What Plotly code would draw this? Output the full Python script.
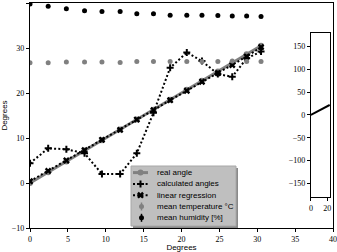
import plotly.graph_objects as go

# ---- data ----
x_vals = [0.0, 2.4, 4.8, 7.2, 9.5, 11.9, 14.1, 16.3, 18.5, 20.7, 22.7, 24.8, 26.7, 28.6, 30.5]
real_angle = [0.0, 2.4, 4.8, 7.2, 9.5, 11.9, 14.1, 16.3, 18.5, 20.7, 22.7, 24.8, 26.7, 28.6, 30.5]
calculated = [4.4, 7.7, 7.5, 6.6, 2.0, 2.0, 6.6, 15.6, 25.6, 29.0, 27.1, 24.2, 23.6, 27.7, 29.2]
regression = [0.4, 2.7, 5.0, 7.3, 9.6, 11.8, 14.1, 16.2, 18.4, 20.5, 22.5, 24.4, 26.2, 28.1, 30.2]
temperature = [26.7, 26.7, 26.9, 26.9, 26.9, 26.8, 27.0, 27.0, 27.0, 27.0, 27.0, 27.0, 27.1, 27.0, 27.0]
humidity = [39.8, 39.3, 38.7, 38.3, 38.1, 38.1, 37.6, 37.6, 37.3, 37.3, 37.3, 37.2, 37.1, 37.1, 37.0]
inset_x = [0, 23]
inset_y = [0, 22]

x_ticks = [0, 5, 10, 15, 20, 25, 30, 35, 40]
y_ticks = [-10, 0, 10, 20, 30, 40]
inset_y_ticks = [-150, -100, -50, 0, 50, 100, 150]
inset_x_ticks = [0, 20]

legend_labels = ["real angle", "calculated angles", "linear regression",
                 "mean temperature °C", "mean humidity [%]"]

serif = "Liberation Serif"
sans = "Liberation Sans"
GRAY = "#808080"
DOT = "2px,2.2px"


def minus(v):
    return ("\u2212" + str(-v)) if v < 0 else str(v)


PLUS = dict(color="black", symbol="cross-thin", size=5, line=dict(color="black", width=2))
XMK = dict(color="black", symbol="x", size=6)

fig = go.Figure()
fig.add_trace(go.Scatter(x=x_vals, y=real_angle, name=legend_labels[0], mode="lines+markers",
                         line=dict(color=GRAY, width=3), marker=dict(color=GRAY, size=6)))
fig.add_trace(go.Scatter(x=x_vals, y=calculated, name=legend_labels[1], mode="lines+markers",
                         line=dict(color="black", width=2, dash=DOT), marker=PLUS))
fig.add_trace(go.Scatter(x=x_vals, y=regression, name=legend_labels[2], mode="lines+markers",
                         line=dict(color="black", width=2, dash=DOT), marker=XMK))
fig.add_trace(go.Scatter(x=x_vals, y=temperature, name=legend_labels[3], mode="markers",
                         marker=dict(color=GRAY, size=5)))
fig.add_trace(go.Scatter(x=x_vals, y=humidity, name=legend_labels[4], mode="markers",
                         marker=dict(color="black", size=5)))
fig.add_trace(go.Scatter(x=inset_x, y=inset_y, mode="lines",
                         line=dict(color="black", width=2), xaxis="x2", yaxis="y2"))

# ---- hand-drawn compact legend (in a pixel-space overlay axis) ----
LX = "x3"
LY = "y3"
box_l, box_r, box_t, box_b = 131, 236, 166, 226
row_y = [172.6, 183.9, 195.2, 206.5, 217.8]
s0, s1, sc = 133, 148, 140.5
text_x = 155
sh = 2
fig.add_trace(go.Scatter(x=[box_l + sh, box_r + sh, box_r + sh, box_l + sh, box_l + sh],
                         y=[box_t + sh, box_t + sh, box_b + sh, box_b + sh, box_t + sh],
                         fill="toself", fillcolor="#8a8a8a", mode="lines", line=dict(width=0),
                         xaxis=LX, yaxis=LY, hoverinfo="skip"))
fig.add_trace(go.Scatter(x=[box_l, box_r, box_r, box_l, box_l],
                         y=[box_t, box_t, box_b, box_b, box_t],
                         fill="toself", fillcolor="#bfbfbf", mode="lines",
                         line=dict(width=1, color="#a8a8a8"),
                         xaxis=LX, yaxis=LY, hoverinfo="skip"))
fig.add_trace(go.Scatter(x=[s0, s1], y=[row_y[0]] * 2, mode="lines", line=dict(color=GRAY, width=3),
                         xaxis=LX, yaxis=LY))
fig.add_trace(go.Scatter(x=[sc], y=[row_y[0]], mode="markers", marker=dict(color=GRAY, size=6),
                         xaxis=LX, yaxis=LY))
for r, mk in [(1, PLUS), (2, XMK)]:
    fig.add_trace(go.Scatter(x=[s0, s1], y=[row_y[r]] * 2, mode="lines",
                             line=dict(color="black", width=2, dash=DOT), xaxis=LX, yaxis=LY))
    fig.add_trace(go.Scatter(x=[sc], y=[row_y[r]], mode="markers", marker=mk, xaxis=LX, yaxis=LY))
for r, col in [(3, GRAY), (4, "black")]:
    fig.add_trace(go.Scatter(x=[sc + 1], y=[row_y[r]], mode="markers",
                             marker=dict(color=col, size=5),
                             error_y=dict(type="constant", value=4, color=col, thickness=1.5, width=0),
                             xaxis=LX, yaxis=LY))

annotations = []
for lbl, ry in zip(legend_labels, row_y):
    annotations.append(dict(x=text_x, y=ry, xref=LX, yref=LY, text=lbl, showarrow=False,
                            xanchor="left", yanchor="middle",
                            font=dict(family=sans, size=8, color="black")))

axis_common = dict(showgrid=False, zeroline=False, showline=True, linecolor="black",
                   linewidth=1.2, ticks="outside", ticklen=3, tickwidth=1, tickcolor="black",
                   automargin=False,
                   tickfont=dict(family=serif, size=8, color="black"))

fig.update_layout(
    width=337, height=252,
    margin=dict(l=30, r=4, t=3, b=24),
    paper_bgcolor="white", plot_bgcolor="white",
    showlegend=False,
    hovermode=False,
    annotations=annotations,
    xaxis=dict(range=[0, 40], tickvals=x_ticks, mirror=True, domain=[0, 1],
               title=dict(text="Degrees", font=dict(family=sans, size=8, color="black"), standoff=2),
               **axis_common),
    yaxis=dict(range=[-10, 40], tickvals=y_ticks, mirror=True,
               ticktext=[minus(v) for v in y_ticks],
               title=dict(text="Degrees", font=dict(family=sans, size=8, color="black"), standoff=2),
               **axis_common),
    xaxis2=dict(domain=[0.927, 0.990], anchor="y2", range=[0, 23.3], tickvals=inset_x_ticks,
                mirror=True, **axis_common),
    yaxis2=dict(domain=[0.138, 0.867], anchor="x2", range=[-180, 180], tickvals=inset_y_ticks,
                ticktext=[minus(v) for v in inset_y_ticks],
                mirror=True, **axis_common),
    xaxis3=dict(overlaying="x", range=[30, 333], visible=False, anchor="y3"),
    yaxis3=dict(overlaying="y", range=[228, 3], visible=False, anchor="x3"),
)
fig.add_shape(type="rect", xref="x2 domain", yref="y2 domain", x0=0, x1=1, y0=0, y1=1,
              fillcolor="white", line=dict(width=0), layer="below")

fig.write_html("out.html", config={"displayModeBar": False},
               post_script="document.body.style.margin='0px';document.body.style.overflow='hidden';")
